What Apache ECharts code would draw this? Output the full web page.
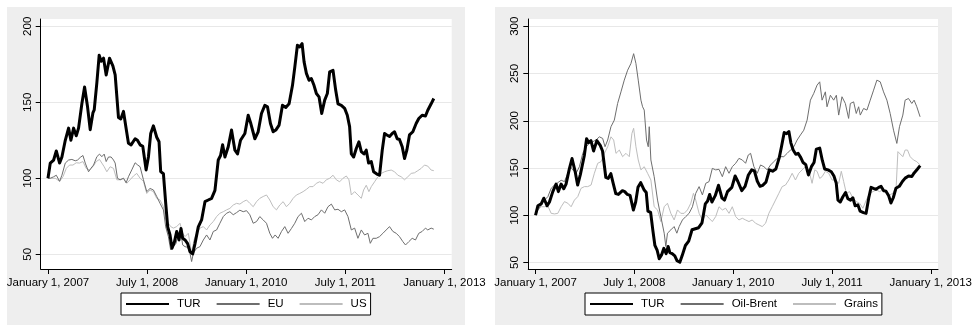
<!DOCTYPE html>
<html><head><meta charset="utf-8">
<script src="https://cdn.jsdelivr.net/npm/echarts@6/dist/echarts.min.js"></script>
<style>html,body{margin:0;padding:0;background:#fff}#c{width:975px;height:326px}</style>
</head><body><div id="c"></div>
<script>
// ---- data (x = years since Jan 1, 2007) ----
const BASE_YEAR = 2007;
const tickYears = [2007, 2008.5, 2010, 2011.5, 2013];
const tickLabels = ['January 1, 2007', 'July 1, 2008', 'January 1, 2010', 'July 1, 2011', 'January 1, 2013'];
const leftYTicks = [50, 100, 150, 200];
const rightYTicks = [50, 100, 150, 200, 250, 300];
const leftNames = ['TUR', 'EU', 'US'];
const rightNames = ['TUR', 'Oil-Brent', 'Grains'];

const tur = [[0,100],[0.035,110],[0.086,112],[0.126,118],[0.176,110],[0.211,114],[0.262,125],[0.312,133],[0.347,125],[0.388,133],[0.428,128],[0.463,133],[0.513,149],[0.554,160],[0.599,147],[0.639,132],[0.680,143],[0.700,145],[0.740,163],[0.775,181],[0.805,177],[0.841,179],[0.881,168],[0.931,179],[0.982,174],[1.017,168],[1.067,140],[1.102,139],[1.143,144],[1.178,134],[1.218,123],[1.258,122],[1.319,126],[1.354,125],[1.394,122],[1.435,121],[1.485,105.5],[1.520,114],[1.555,129.5],[1.596,134.5],[1.646,127],[1.681,124],[1.706,104.4],[1.747,103],[1.782,83.5],[1.812,68],[1.847,62.7],[1.877,54],[1.913,58],[1.948,65],[1.983,59.4],[2.013,67],[2.039,60.5],[2.074,59.4],[2.114,57],[2.149,51.8],[2.190,50.2],[2.225,57],[2.275,68],[2.325,72.6],[2.376,84.6],[2.426,85.7],[2.476,86.8],[2.527,92],[2.577,112],[2.612,115],[2.643,122],[2.678,114],[2.728,120.7],[2.778,131.7],[2.829,118.5],[2.869,116],[2.914,125],[2.980,129.5],[3.030,141.5],[3.070,136],[3.131,126],[3.181,130.6],[3.231,142.6],[3.282,148],[3.322,147],[3.367,136],[3.408,130.6],[3.448,131.7],[3.498,135],[3.549,148],[3.599,146.6],[3.649,149],[3.700,161],[3.735,173],[3.775,187.5],[3.810,186.4],[3.846,188.6],[3.876,176.6],[3.911,169],[3.951,164.5],[3.986,165.6],[4.027,161],[4.062,155.8],[4.102,153.6],[4.143,142.6],[4.188,151.4],[4.228,155.8],[4.263,170],[4.314,171],[4.354,158],[4.389,149],[4.440,148],[4.490,146],[4.530,141.5],[4.565,134],[4.591,116],[4.626,114],[4.666,119.6],[4.706,124],[4.742,117.5],[4.782,116],[4.817,118.5],[4.852,110],[4.893,111],[4.928,104.3],[4.978,102.8],[5.018,102],[5.059,118.5],[5.094,129.5],[5.129,128.5],[5.169,127.5],[5.210,129.5],[5.245,130.6],[5.285,126],[5.320,125.5],[5.361,120.7],[5.396,113],[5.431,118.5],[5.471,128.5],[5.522,130.6],[5.572,136],[5.612,139.3],[5.663,141.5],[5.713,141],[5.748,144.8],[5.799,149],[5.839,152.5]];

const eu = [[0,100],[0.035,100],[0.086,101],[0.126,102],[0.176,98],[0.211,102],[0.262,110],[0.312,112],[0.362,112.4],[0.413,111.5],[0.448,112],[0.488,113.7],[0.529,115],[0.564,110],[0.614,104.3],[0.649,106.5],[0.690,108.7],[0.740,114.2],[0.780,115.9],[0.815,114.2],[0.851,115.9],[0.881,111],[0.916,114],[0.956,114],[0.992,112],[1.017,110],[1.052,100],[1.092,99],[1.143,100],[1.183,97],[1.218,101],[1.268,105.5],[1.319,110.2],[1.359,108.7],[1.394,107.6],[1.445,99],[1.495,91.2],[1.545,93.3],[1.596,92.3],[1.646,88],[1.696,83.5],[1.747,79.2],[1.782,68],[1.822,61.6],[1.857,52.9],[1.898,55],[1.938,57.2],[1.973,63.8],[2.008,65],[2.039,56.1],[2.074,55],[2.114,54.6],[2.149,50.7],[2.174,45.2],[2.200,50.7],[2.250,54],[2.300,55],[2.351,59.4],[2.401,62.7],[2.451,59.4],[2.502,65],[2.552,66],[2.602,70.4],[2.653,74.8],[2.703,77],[2.753,78],[2.804,76],[2.854,77.4],[2.904,79],[2.955,78],[3.005,78.7],[3.055,76],[3.106,70.4],[3.156,71.5],[3.206,74.8],[3.257,72.6],[3.307,70.4],[3.357,63.8],[3.398,60.5],[3.438,62.7],[3.483,60.5],[3.534,65],[3.584,68.2],[3.634,63.8],[3.685,67],[3.735,70.4],[3.785,74.8],[3.836,77],[3.886,71.5],[3.936,73.7],[3.987,72.6],[4.037,74.8],[4.087,76],[4.138,79.2],[4.188,77],[4.238,81.3],[4.289,83],[4.339,79.2],[4.389,79.6],[4.440,78],[4.490,79.2],[4.540,74.8],[4.591,66],[4.641,67.2],[4.691,60.5],[4.742,66],[4.792,62.7],[4.842,63.8],[4.878,57.2],[4.918,60.5],[4.968,60.5],[5.018,61.6],[5.069,63.8],[5.119,66],[5.169,68.2],[5.220,65],[5.270,63.8],[5.320,61.6],[5.371,58.3],[5.411,56.1],[5.461,58.3],[5.512,60.5],[5.562,59.4],[5.612,63.8],[5.663,65],[5.713,67.2],[5.748,66],[5.799,67.2],[5.839,66.5]];

const us = [[0,100],[0.060,100],[0.111,100],[0.176,98],[0.227,101],[0.277,106.5],[0.327,108.7],[0.378,108.7],[0.428,110.2],[0.478,110],[0.529,111],[0.579,106.5],[0.629,105.4],[0.680,107.6],[0.730,111],[0.780,112.4],[0.815,110],[0.851,107.6],[0.891,104.3],[0.941,107.6],[0.992,106.5],[1.042,99],[1.092,99],[1.143,100],[1.193,96.7],[1.243,99],[1.294,101.5],[1.344,103.2],[1.394,100],[1.445,98],[1.495,90],[1.545,92.3],[1.596,91.2],[1.646,86.8],[1.696,85.7],[1.747,81.3],[1.782,72.6],[1.822,70.4],[1.857,68.2],[1.898,67.2],[1.948,68.2],[1.998,70.4],[2.039,63.8],[2.074,61.6],[2.124,63.8],[2.174,50.7],[2.210,59.4],[2.250,63.8],[2.300,67.2],[2.351,68.2],[2.401,66],[2.451,69.3],[2.502,71.5],[2.552,74.8],[2.602,77],[2.653,78],[2.703,79.2],[2.753,80.2],[2.804,82.4],[2.854,83.5],[2.904,83],[2.955,84.6],[3.005,85.7],[3.055,83.5],[3.106,81.3],[3.156,84.6],[3.206,86.8],[3.257,88],[3.307,89],[3.357,85.7],[3.408,81.3],[3.458,79.2],[3.508,82.4],[3.559,84.6],[3.609,81.3],[3.659,83.5],[3.710,86.8],[3.760,89],[3.810,90],[3.861,91.2],[3.911,92.7],[3.961,94.5],[4.012,94.5],[4.062,96.7],[4.112,97.7],[4.163,96.7],[4.213,99],[4.263,100],[4.314,102],[4.364,99],[4.414,97.7],[4.465,100],[4.515,101.5],[4.555,99],[4.591,89],[4.641,91.2],[4.691,89],[4.742,86.8],[4.777,92.3],[4.817,95.4],[4.857,91.2],[4.893,94.5],[4.943,97.7],[4.993,101],[5.044,103.2],[5.094,104.3],[5.144,105],[5.195,105.4],[5.245,104.3],[5.295,102],[5.346,101],[5.396,99],[5.446,101],[5.497,103.2],[5.547,103.6],[5.597,105],[5.648,106.5],[5.698,108.7],[5.748,108],[5.799,105.4],[5.839,105]];

const oil = [[0,100.4],[0.035,105.6],[0.086,111],[0.136,116],[0.187,119.7],[0.237,128.5],[0.288,132],[0.338,134.5],[0.389,137],[0.439,135.6],[0.490,144.4],[0.530,151.4],[0.565,148],[0.616,144.4],[0.666,151.4],[0.717,165.5],[0.767,172.5],[0.817,176],[0.868,177.8],[0.918,179.6],[0.969,183],[1.019,181.3],[1.055,172.5],[1.095,179.6],[1.145,193.7],[1.196,200.7],[1.246,218.3],[1.297,230.6],[1.347,243],[1.398,253.5],[1.448,260.6],[1.489,271],[1.524,260.6],[1.559,243],[1.600,221.8],[1.625,214.8],[1.650,211.3],[1.685,179.6],[1.711,172.5],[1.726,193.7],[1.751,158.5],[1.801,140.8],[1.852,116],[1.902,98.6],[1.953,81],[1.978,67],[2.003,81],[2.054,84.5],[2.104,88],[2.145,81],[2.180,88],[2.230,95],[2.281,98.6],[2.331,102],[2.382,109],[2.432,123.2],[2.483,130.3],[2.533,121.5],[2.584,133.8],[2.634,135.6],[2.684,149.6],[2.735,148],[2.785,148.6],[2.836,140.8],[2.886,151.4],[2.937,144.4],[2.987,151.4],[3.038,155],[3.088,160.2],[3.139,158.5],[3.189,155],[3.229,163.7],[3.265,165.5],[3.315,151.4],[3.366,144.4],[3.416,153.2],[3.467,151.4],[3.517,148],[3.568,153.2],[3.618,156.7],[3.668,160.2],[3.719,162],[3.769,162],[3.820,165.5],[3.870,169],[3.921,172.5],[3.971,179.6],[4.022,185],[4.072,190],[4.123,200.7],[4.173,221.8],[4.224,229],[4.274,237.7],[4.314,241.2],[4.350,221.8],[4.400,230.6],[4.425,214.8],[4.476,227],[4.526,221.8],[4.567,227],[4.602,206],[4.652,225.4],[4.703,218.3],[4.753,202.5],[4.779,218.3],[4.829,220],[4.869,207.7],[4.905,214.8],[4.930,206],[4.980,213],[5.031,211.3],[5.081,221.8],[5.132,232.4],[5.182,243],[5.233,241.2],[5.283,230.6],[5.334,221.8],[5.384,207.7],[5.435,190],[5.485,176],[5.525,193.7],[5.576,206],[5.611,221.8],[5.662,223.6],[5.712,218.3],[5.747,221.8],[5.788,214.8],[5.838,204.2]];

const grains = [[0,100.4],[0.035,105.6],[0.086,109],[0.136,109],[0.187,109.8],[0.237,102],[0.288,101.4],[0.338,102],[0.389,109],[0.439,114.4],[0.490,112.7],[0.540,109],[0.590,116],[0.641,119.7],[0.691,128.5],[0.742,130.3],[0.792,130.3],[0.843,132],[0.893,144.4],[0.944,155],[0.994,156.7],[1.045,165.5],[1.095,172.5],[1.145,183],[1.186,179.6],[1.221,165.5],[1.272,169],[1.322,162],[1.373,165.5],[1.423,162],[1.463,186.6],[1.489,192],[1.524,172.5],[1.559,158.5],[1.600,148],[1.650,151.4],[1.701,144.4],[1.751,137.3],[1.801,109],[1.852,105.6],[1.902,93.3],[1.953,109],[2.003,112.7],[2.054,102],[2.104,95],[2.155,105.6],[2.205,102],[2.256,102],[2.306,105.6],[2.357,112.7],[2.397,123.2],[2.432,116],[2.483,102],[2.533,95],[2.584,100.4],[2.634,96.8],[2.684,93.3],[2.735,98.6],[2.785,109],[2.836,105.6],[2.886,107.4],[2.937,102],[2.987,109],[3.038,98.6],[3.088,95],[3.139,96.8],[3.189,95],[3.240,93.3],[3.290,95],[3.340,91.5],[3.391,89.8],[3.441,88],[3.492,91.5],[3.542,102],[3.593,109],[3.643,116],[3.694,123.2],[3.744,130.3],[3.795,132],[3.845,137.3],[3.896,144.4],[3.946,137.3],[3.996,144.4],[4.047,148],[4.097,151.4],[4.148,148],[4.198,133.8],[4.239,148],[4.274,146.5],[4.314,139],[4.350,140.8],[4.400,146.5],[4.451,144.4],[4.501,137.3],[4.551,137.3],[4.602,133.8],[4.642,146.5],[4.678,135.6],[4.718,123.2],[4.768,125],[4.819,118],[4.869,114.4],[4.920,112.7],[4.970,107.4],[5.021,116],[5.071,123.2],[5.122,125],[5.172,126.8],[5.223,125],[5.273,126.8],[5.324,123.2],[5.374,121.5],[5.425,123.2],[5.475,130.3],[5.501,167.3],[5.525,167.3],[5.576,162],[5.611,169],[5.647,169],[5.687,162],[5.737,158.5],[5.788,156.7],[5.838,153.2]];

// ---- chart ----
const FONT = "'Liberation Sans', Arial, sans-serif";
const toYears = arr => arr.map(p => [BASE_YEAR + p[0], p[1]]);
const tickLabel = v => {
  for (let i = 0; i < tickYears.length; i++) if (Math.abs(tickYears[i] - v) < 1e-6) return tickLabels[i];
  return '';
};

function xAxisCfg(gridIndex) {
  return {
    type: 'value', gridIndex, min: 2006.89, max: 2013.11,
    axisLine: { show: true, lineStyle: { color: '#000', width: 1 } },
    axisTick: { show: true, length: 5, customValues: tickYears, lineStyle: { color: '#000' } },
    axisLabel: { customValues: tickYears, formatter: tickLabel, color: '#000', fontFamily: FONT, fontSize: 11.5, margin: 8, hideOverlap: false, showMinLabel: true, showMaxLabel: true },
    splitLine: { show: false }
  };
}
function yAxisCfg(gridIndex, min, max, ticks) {
  return {
    type: 'value', gridIndex, min, max,
    axisLine: { show: true, lineStyle: { color: '#000', width: 1 } },
    axisTick: { show: true, length: 5, customValues: ticks, lineStyle: { color: '#000' } },
    axisLabel: { customValues: ticks, rotate: 90, color: '#000', fontFamily: FONT, fontSize: 11.5, margin: 7, hideOverlap: false },
    splitLine: { show: true, lineStyle: { color: '#e8e8e8', width: 1 } }
  };
}
const styles = {
  'TUR': { color: '#000000', width: 3 },
  'EU': { color: '#6e6e6e', width: 1 },
  'US': { color: '#bdbdbd', width: 1 },
  'Oil-Brent': { color: '#6e6e6e', width: 1 },
  'Grains': { color: '#bdbdbd', width: 1 }
};
function lineSeries(name, data, idx, z) {
  const s = styles[name];
  return {
    name, type: 'line', xAxisIndex: idx, yAxisIndex: idx, data: toYears(data),
    symbol: 'none', showSymbol: false, smooth: false, silent: true, animation: false, z,
    lineStyle: { color: s.color, width: s.width, join: 'round' }, itemStyle: { color: s.color }
  };
}
function legendCfg(names, left, extraPad) {
  return {
    left, top: 293, orient: 'horizontal',
    data: names.map((n, i) => ({ name: n, textStyle: { padding: [0, extraPad[i], 0, 3] } })),
    itemWidth: 43, itemHeight: 12, itemGap: 15,
    padding: [5, 4, 5, 4],
    borderColor: '#000', borderWidth: 1, backgroundColor: '#fff',
    itemStyle: { opacity: 0, borderWidth: 0 },
    textStyle: { color: '#000', fontFamily: FONT, fontSize: 11.5 },
    selectedMode: false
  };
}

const chart = echarts.init(document.getElementById('c'), null, { renderer: 'canvas' });
chart.setOption({
  animation: false,
  backgroundColor: '#ffffff',
  graphic: [
    { type: 'rect', z: -100, silent: true, shape: { x: 7, y: 7, width: 458, height: 318 }, style: { fill: '#eeeeee' } },
    { type: 'rect', z: -100, silent: true, shape: { x: 495, y: 7, width: 457, height: 318 }, style: { fill: '#eeeeee' } }
  ],
  grid: [
    { left: 40.7, top: 19, width: 411, height: 250, show: true, backgroundColor: '#fff', borderWidth: 0 },
    { left: 528.3, top: 19, width: 411.7, height: 250, show: true, backgroundColor: '#fff', borderWidth: 0 }
  ],
  xAxis: [xAxisCfg(0), xAxisCfg(1)],
  yAxis: [yAxisCfg(0, 40.3, 204.8, leftYTicks), yAxisCfg(1, 43.1, 307.7, rightYTicks)],
  legend: [legendCfg(leftNames, 121, [0, 0, 0]), legendCfg(rightNames, 585, [0, 12, 0])],
  series: [
    lineSeries('US', us, 0, 3),
    lineSeries('EU', eu, 0, 4),
    lineSeries('TUR', tur, 0, 5),
    lineSeries('Grains', grains, 1, 3),
    lineSeries('Oil-Brent', oil, 1, 4),
    lineSeries('TUR', tur, 1, 5)
  ]
});
</script></body></html>
